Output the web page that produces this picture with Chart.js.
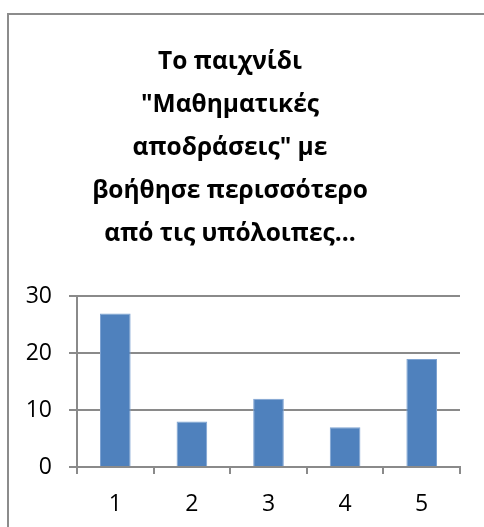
<!DOCTYPE html>
<html>
<head>
<meta charset="utf-8">
<script src="https://cdn.jsdelivr.net/npm/chart.js@4.4.1/dist/chart.umd.min.js"></script>
<style>
  html, body { margin: 0; padding: 0; background: #fff; overflow: hidden; }
  #wrap { position: relative; width: 484px; height: 527px; }
  #frame {
    position: absolute; left: 7px; top: 13px; width: 600px; height: 600px;
    border-left: 2px solid #8c8c8c; border-top: 2px solid #8c8c8c;
  }
  canvas { position: absolute; left: 0; top: 0; }
</style>
</head>
<body>
<div id="wrap">
  <div id="frame"></div>
  <canvas id="chart" width="484" height="527"></canvas>
</div>
<script>
const categories = ['1', '2', '3', '4', '5'];
const answers = [27, 8, 12, 7, 19];
const yTicks = [0, 10, 20, 30];
const titleLines = [
  'Το παιχνίδι',
  '"Μαθηματικές',
  'αποδράσεις" με',
  'βοήθησε περισσότερο',
  'από τις υπόλοιπες...'
];

const axisGray = '#8a8a8a';
const tickFont = { family: "'Open Sans', 'Liberation Sans', sans-serif", size: 23 };

new Chart(document.getElementById('chart').getContext('2d'), {
  type: 'bar',
  data: {
    labels: categories,
    datasets: [{
      data: answers,
      backgroundColor: '#4f81bd',
      borderColor: '#7ea3d2',
      borderWidth: 1,
      categoryPercentage: 1,
      barPercentage: 0.4
    }]
  },
  options: {
    responsive: false,
    animation: false,
    layout: { padding: { left: 0, right: 24, top: 0, bottom: 0 } },
    plugins: {
      legend: { display: false },
      tooltip: { enabled: false },
      title: {
        display: true,
        text: titleLines,
        color: '#000',
        font: { family: "'Open Sans', 'Noto Sans', sans-serif", size: 24.5, weight: 'bold', lineHeight: 1.75 },
        padding: { top: 41, bottom: 41 }
      }
    },
    scales: {
      y: {
        min: 0,
        max: 30,
        afterBuildTicks: (scale) => { scale.ticks = yTicks.map(v => ({ value: v })); },
        afterFit: (scale) => { scale.width = 77; },
        ticks: { color: '#000', font: tickFont, padding: 17 },
        grid: { color: axisGray, lineWidth: 2, tickLength: 8 },
        border: { color: axisGray, width: 2 }
      },
      x: {
        afterFit: (scale) => { scale.height = 60; },
        ticks: { color: '#000', font: tickFont, padding: 17 },
        grid: { offset: true, drawOnChartArea: false, color: axisGray, lineWidth: 2, tickLength: 7 },
        border: { color: axisGray, width: 2 }
      }
    }
  }
});
</script>
</body>
</html>
